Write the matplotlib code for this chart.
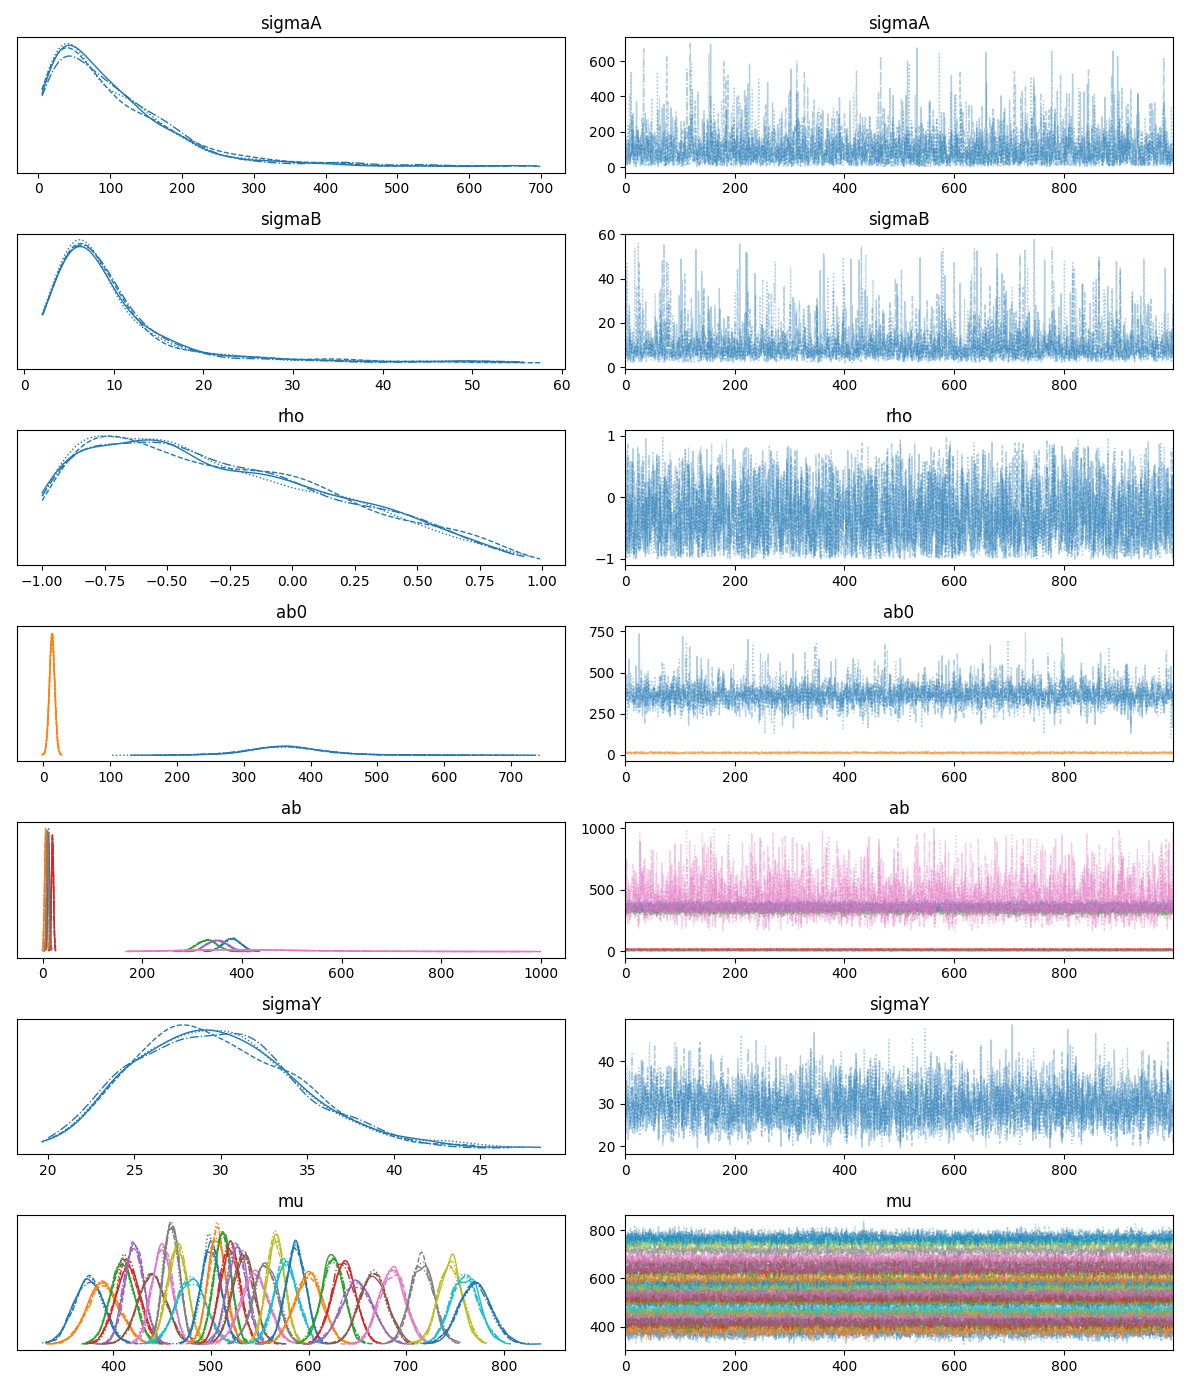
import matplotlib
matplotlib.use("Agg")
import matplotlib.pyplot as plt
import numpy as np

# posterior shapes (density curve points)
sigmaA_x = [5, 20, 35, 60, 100, 150, 200, 250, 300, 400, 500, 700]
sigmaA_y = [0.85, 1.0, 0.95, 0.75, 0.5, 0.33, 0.2, 0.07, 0.04, 0.02, 0.008, 0.004]
sigmaB_x = [2, 3, 4, 5, 6, 8, 10, 12, 15, 20, 30, 40, 58]
sigmaB_y = [0.1, 0.5, 0.85, 1.0, 0.98, 0.75, 0.5, 0.3, 0.15, 0.06, 0.02, 0.01, 0.004]
rho_x = [-1.0, -0.9, -0.75, -0.5, -0.25, 0.0, 0.25, 0.5, 0.75, 1.0]
rho_y = [0.6, 0.6, 0.6, 0.55, 0.45, 0.38, 0.3, 0.2, 0.1, 0.02]
sigmaY_x = [19.5, 22, 25, 27, 29, 31, 33, 36, 40, 45, 50]
sigmaY_y = [0.02, 0.2, 0.75, 0.98, 1.0, 0.9, 0.7, 0.35, 0.08, 0.01, 0.002]
ab0_x = [80, 200, 280, 330, 360, 390, 440, 500, 600, 760]
ab0_y = [0.001, 0.01, 0.2, 0.8, 1.0, 0.8, 0.25, 0.06, 0.01, 0.001]
abwide_x = [160, 250, 330, 400, 480, 600, 750, 1000]
abwide_y = [0.02, 0.3, 0.9, 1.0, 0.7, 0.3, 0.08, 0.01]

ab0_slope = [13, 4]
ab_mean = [380, 6, 330, 20, 350, 12, None, 10]
ab_sd = [18, 2, 20, 2, 20, 2, None, 2]
mu_mean = [375, 390, 410, 415, 422, 440, 450, 460, 466, 480, 500, 506, 512, 520,
           527, 533, 545, 556, 566, 577, 587, 600, 625, 636, 650, 666, 686, 716,
           745, 760, 770]
mu_sd = [15, 16, 12, 12, 10, 14, 10, 8, 10, 15, 10, 9, 9, 10, 10, 11, 14, 12, 9,
         12, 10, 14, 11, 12, 16, 14, 13, 12, 12, 14, 16]

n_chains, n_draws = 4, 1000
styles = ["-", "--", ":", "-."]
rng = np.random.default_rng(3)


def from_curve(xs, ys):
    g = np.linspace(xs[0], xs[-1], 2000)
    p = np.interp(g, xs, ys)
    c = np.cumsum(p); c /= c[-1]
    return np.interp(rng.random((n_chains, n_draws)), c, g)


def kde(s):
    bw = 1.06 * s.std() * len(s) ** -0.2
    g = np.linspace(s.min(), s.max(), 300)
    d = np.exp(-0.5 * ((g[:, None] - s[None, :]) / bw) ** 2).sum(1)
    return g, d / (len(s) * bw * np.sqrt(2 * np.pi))


def normals(means, sds):
    out = []
    for m, s in zip(means, sds):
        if m is None:
            out.append(from_curve(abwide_x, abwide_y))
        else:
            out.append(rng.normal(m, s, (n_chains, n_draws)))
    return out


variables = [
    ("sigmaA", [from_curve(sigmaA_x, sigmaA_y)]),
    ("sigmaB", [from_curve(sigmaB_x, sigmaB_y)]),
    ("rho", [from_curve(rho_x, rho_y)]),
    ("ab0", [from_curve(ab0_x, ab0_y)] + normals(ab0_slope[:1], ab0_slope[1:])),
    ("ab", normals(ab_mean, ab_sd)),
    ("sigmaY", [from_curve(sigmaY_x, sigmaY_y)]),
    ("mu", normals(mu_mean, mu_sd)),
]

fig, axes = plt.subplots(7, 2, figsize=(11.88, 13.89), dpi=100)
for row, (name, comps) in enumerate(variables):
    axd, axt = axes[row]
    for k, samp in enumerate(comps):
        col = f"C{k % 10}"
        for c in range(n_chains):
            g, d = kde(samp[c])
            axd.plot(g, d, color=col, ls=styles[c], lw=1)
            axt.plot(np.arange(n_draws), samp[c], color=col, ls=styles[c],
                     lw=1, alpha=0.35)
    axd.set_title(name)
    axd.set_yticks([])
    axt.set_title(name)
    axt.set_xlim(0, n_draws - 1)
    axt.set_xticks([0, 200, 400, 600, 800])
fig.tight_layout()
fig.savefig("out.png")
